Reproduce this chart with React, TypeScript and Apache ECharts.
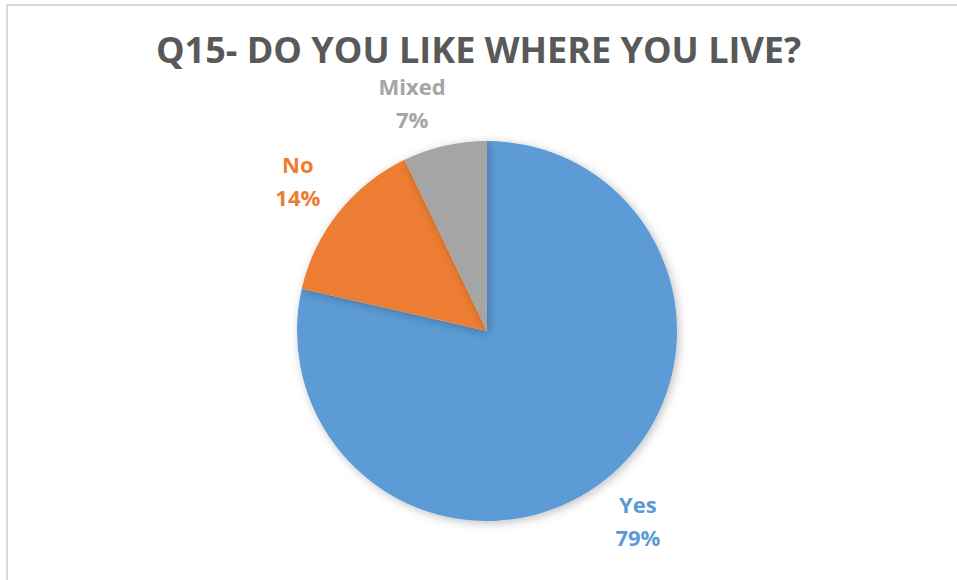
import React, { useEffect, useRef } from "react";
import * as echarts from "echarts";

const titleText = "Q15- DO YOU LIKE WHERE YOU LIVE?";
const categories = ["Yes", "No", "Mixed"];
const counts = [55, 10, 5];
const sliceColors = ["#5B9BD5", "#ED7D31", "#A5A5A5"];

export default function App() {
  const ref = useRef<HTMLDivElement>(null);
  useEffect(() => {
    if (!ref.current) return;
    const chart = echarts.init(ref.current, null, { renderer: "svg" });
    const data = categories.map((name, i) => ({
      name,
      value: counts[i],
      itemStyle: { color: sliceColors[i] },
      label: { color: sliceColors[i] },
    }));
    // small label nudges (Excel best-fit placement)
    const labelNudge: Record<string, [number, number]> = {
      Mixed: [-21, 7],
    };
    chart.setOption({
      animation: false,
      backgroundColor: "#ffffff",
      title: {
        text: titleText,
        left: "center",
        top: 30,
        padding: 0,
        textStyle: {
          fontFamily: "Open Sans",
          fontWeight: "bold",
          fontSize: 36,
          lineHeight: 38,
          color: "#595959",
        },
      },
      graphic: [
        {
          type: "rect",
          shape: { x: 7, y: 5, width: 1000, height: 1000 },
          style: { fill: "none", stroke: "#D9D9D9", lineWidth: 2 },
          silent: true,
        },
      ],
      series: [
        {
          type: "pie",
          center: [487, 331],
          radius: 190,
          startAngle: 90,
          clockwise: true,
          percentPrecision: 0,
          data,
          itemStyle: {
            shadowBlur: 10,
            shadowOffsetX: 2,
            shadowOffsetY: 2,
            shadowColor: "rgba(0,0,0,0.25)",
          },
          label: {
            show: true,
            position: "outside",
            formatter: "{b}\n{d}%",
            fontFamily: "Open Sans",
            fontWeight: "bold",
            fontSize: 22,
            lineHeight: 33,
            align: "center",
          },
          labelLine: {
            show: true,
            length: 52,
            length2: 0,
            lineStyle: { opacity: 0, width: 0 },
          },
          labelLayout: (params: any) => {
            const pts = params.labelLinePoints;
            if (!pts || pts.length < 2) return {};
            const name = categories[params.dataIndex];
            const n = labelNudge[name] || [0, 0];
            return {
              x: pts[1][0] + n[0],
              y: pts[1][1] + n[1],
              align: "center",
              verticalAlign: "middle",
            };
          },
        },
      ],
    });
    return () => chart.dispose();
  }, []);
  return (
    <div
      ref={ref}
      style={{ position: "fixed", left: 0, top: 0, width: 957, height: 580 }}
    />
  );
}
